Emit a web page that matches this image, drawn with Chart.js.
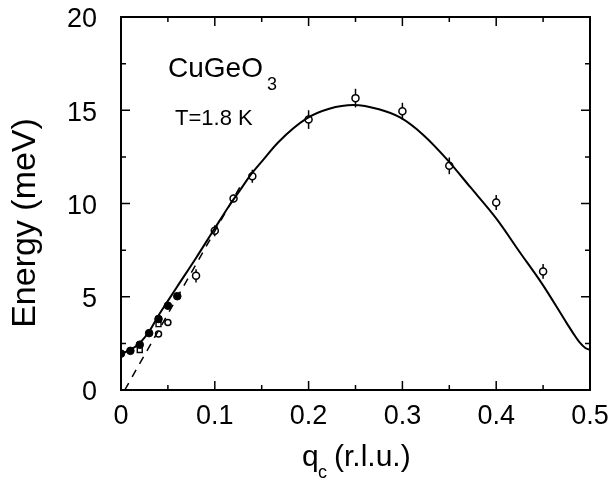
<!DOCTYPE html>
<html>
<head>
<meta charset="utf-8">
<script src="https://cdn.jsdelivr.net/npm/chart.js@4"></script>
<style>
html, body { margin: 0; padding: 0; background: #fff; }
</style>
</head>
<body>
<canvas id="myChart" width="613" height="484"></canvas>
<script>
// axis ticks
var xTicks = [0, 0.1, 0.2, 0.3, 0.4, 0.5];
var xLabels = ['0', '0.1', '0.2', '0.3', '0.4', '0.5'];
var xMinor = [0.05, 0.15, 0.25, 0.35, 0.45];
var yTicks = [0, 5, 10, 15, 20];
var yLabels = ['0', '5', '10', '15', '20'];
var yMinor = [2.5, 7.5, 12.5, 17.5];

// fitted dispersion (solid line)
var curveQ = [0, 0.01, 0.02, 0.03, 0.04, 0.05, 0.06, 0.08, 0.10, 0.115, 0.126, 0.14, 0.15, 0.168, 0.198, 0.222, 0.248, 0.275, 0.298, 0.322, 0.348, 0.372, 0.40, 0.425, 0.45, 0.475, 0.482, 0.489, 0.495, 0.5];
var curveE = [1.95, 2.15, 2.52, 3.14, 4.0, 4.78, 5.55, 7.08, 8.67, 9.85, 10.65, 11.65, 12.25, 13.3, 14.56, 15.08, 15.28, 15.05, 14.6, 13.69, 12.34, 10.9, 9.2, 7.4, 5.61, 3.6, 3.05, 2.55, 2.25, 2.15];

// dashed gapless line
var dashQ = [0.004, 0.128];
var dashE = [0, 11.0];

// filled circles
var filledQ = [0, 0.01, 0.02, 0.03, 0.04, 0.05, 0.06];
var filledE = [1.95, 2.1, 2.43, 3.05, 3.81, 4.52, 5.03];

// open squares
var squareQ = [0.02, 0.04];
var squareE = [2.14, 3.53];

// small open circles
var smallQ = [0.04, 0.05];
var smallE = [3.0, 3.62];

// open circles with error bars
var openQ = [0.08, 0.10, 0.12, 0.14, 0.20, 0.25, 0.30, 0.35, 0.40, 0.45];
var openE = [6.12, 8.54, 10.27, 11.46, 14.5, 15.65, 14.95, 12.02, 10.05, 6.36];
var openErr = [0.35, 0.3, 0.2, 0.35, 0.5, 0.5, 0.45, 0.45, 0.4, 0.4];

var FONT = "'Liberation Sans', Arial, sans-serif";

function pts(qs, es) {
    var out = [];
    for (let i = 0; i < qs.length; i++) {
        out.push({x: qs[i], y: es[i]});
    }
    return out;
}

// frame, inward ticks, tick labels, error bars and text
var decor = {
    id: 'decor',
    beforeDatasetsDraw: function(chart) {
        var ctx = chart.ctx;
        var x = chart.scales.x, y = chart.scales.y;
        ctx.save();
        ctx.strokeStyle = '#000';
        ctx.lineWidth = 1.5;
        for (let i = 0; i < openQ.length; i++) {
            var px = x.getPixelForValue(openQ[i]);
            ctx.beginPath();
            ctx.moveTo(px, y.getPixelForValue(openE[i] - openErr[i]));
            ctx.lineTo(px, y.getPixelForValue(openE[i] + openErr[i]));
            ctx.stroke();
        }
        ctx.restore();
    },
    afterDraw: function(chart) {
        var ctx = chart.ctx;
        var a = chart.chartArea;
        var x = chart.scales.x, y = chart.scales.y;
        ctx.save();
        ctx.strokeStyle = '#000';
        ctx.lineWidth = 2;
        ctx.strokeRect(a.left, a.top, a.right - a.left, a.bottom - a.top);

        ctx.lineWidth = 1.5;
        function xt(v, len) {
            var px = x.getPixelForValue(v);
            ctx.beginPath();
            ctx.moveTo(px, a.bottom); ctx.lineTo(px, a.bottom - len);
            ctx.moveTo(px, a.top); ctx.lineTo(px, a.top + len);
            ctx.stroke();
        }
        function yt(v, len) {
            var py = y.getPixelForValue(v);
            ctx.beginPath();
            ctx.moveTo(a.left, py); ctx.lineTo(a.left + len, py);
            ctx.moveTo(a.right, py); ctx.lineTo(a.right - len, py);
            ctx.stroke();
        }
        xTicks.forEach(v => xt(v, 9));
        xMinor.forEach(v => xt(v, 5));
        yTicks.forEach(v => yt(v, 9));
        yMinor.forEach(v => yt(v, 5));

        ctx.fillStyle = '#000';
        // tick labels
        ctx.font = '27px ' + FONT;
        ctx.textAlign = 'center';
        ctx.textBaseline = 'alphabetic';
        xTicks.forEach((v, i) => ctx.fillText(xLabels[i], x.getPixelForValue(v), 424));
        ctx.textAlign = 'right';
        ctx.textBaseline = 'middle';
        yTicks.forEach((v, i) => ctx.fillText(yLabels[i], 97, y.getPixelForValue(v) + 3));

        ctx.textBaseline = 'alphabetic';
        ctx.textAlign = 'left';
        // sample label
        ctx.font = '28px ' + FONT;
        ctx.fillText('CuGeO', 168, 77);
        var w = ctx.measureText('CuGeO').width;
        ctx.font = '18px ' + FONT;
        ctx.fillText('3', 168 + w + 4, 90);
        ctx.font = '22px ' + FONT;
        ctx.fillText('T=1.8 K', 175, 125);

        // x axis title
        ctx.font = '30px ' + FONT;
        ctx.fillText('q', 302, 466);
        ctx.font = '18px ' + FONT;
        ctx.fillText('c', 318, 478);
        ctx.font = '30px ' + FONT;
        ctx.fillText('(r.l.u.)', 334, 466);

        // y axis title
        ctx.translate(35, 223);
        ctx.rotate(-Math.PI / 2);
        ctx.textAlign = 'center';
        ctx.font = '34px ' + FONT;
        ctx.fillText('Energy (meV)', 0, 0);
        ctx.restore();
    }
};

var ctx = document.getElementById('myChart').getContext('2d');
var myChart = new Chart(ctx, {
    type: 'scatter',
    data: {
        datasets: [
            {
                data: pts(curveQ, curveE),
                showLine: true,
                borderColor: '#000',
                borderWidth: 2,
                pointRadius: 0,
                cubicInterpolationMode: 'monotone'
            },
            {
                data: pts(dashQ, dashE),
                showLine: true,
                borderColor: '#000',
                borderWidth: 1.5,
                borderDash: [8, 7],
                pointRadius: 0
            },
            {
                data: pts(filledQ, filledE),
                pointStyle: 'circle',
                pointRadius: 3.8,
                backgroundColor: '#000',
                borderColor: '#000',
                borderWidth: 1
            },
            {
                data: pts(squareQ, squareE),
                pointStyle: 'rect',
                pointRadius: 3.5,
                backgroundColor: '#fff',
                borderColor: '#000',
                borderWidth: 1.4
            },
            {
                data: pts(smallQ, smallE),
                pointStyle: 'circle',
                pointRadius: 3,
                backgroundColor: '#fff',
                borderColor: '#000',
                borderWidth: 1.5
            },
            {
                data: pts(openQ, openE),
                pointStyle: 'circle',
                pointRadius: 3.5,
                backgroundColor: '#fff',
                borderColor: '#000',
                borderWidth: 1.5
            }
        ]
    },
    options: {
        responsive: false,
        animation: false,
        layout: { padding: { top: 17, right: 23, left: 0, bottom: 0 } },
        plugins: {
            legend: { display: false },
            tooltip: { enabled: false }
        },
        scales: {
            x: {
                type: 'linear',
                min: 0,
                max: 0.5,
                afterFit: function(scale) { scale.height = 94; },
                grid: { display: false, drawTicks: false },
                border: { display: false },
                ticks: { display: false }
            },
            y: {
                min: 0,
                max: 20,
                afterFit: function(scale) { scale.width = 121; },
                grid: { display: false, drawTicks: false },
                border: { display: false },
                ticks: { display: false }
            }
        }
    },
    plugins: [decor]
});
</script>
</body>
</html>
